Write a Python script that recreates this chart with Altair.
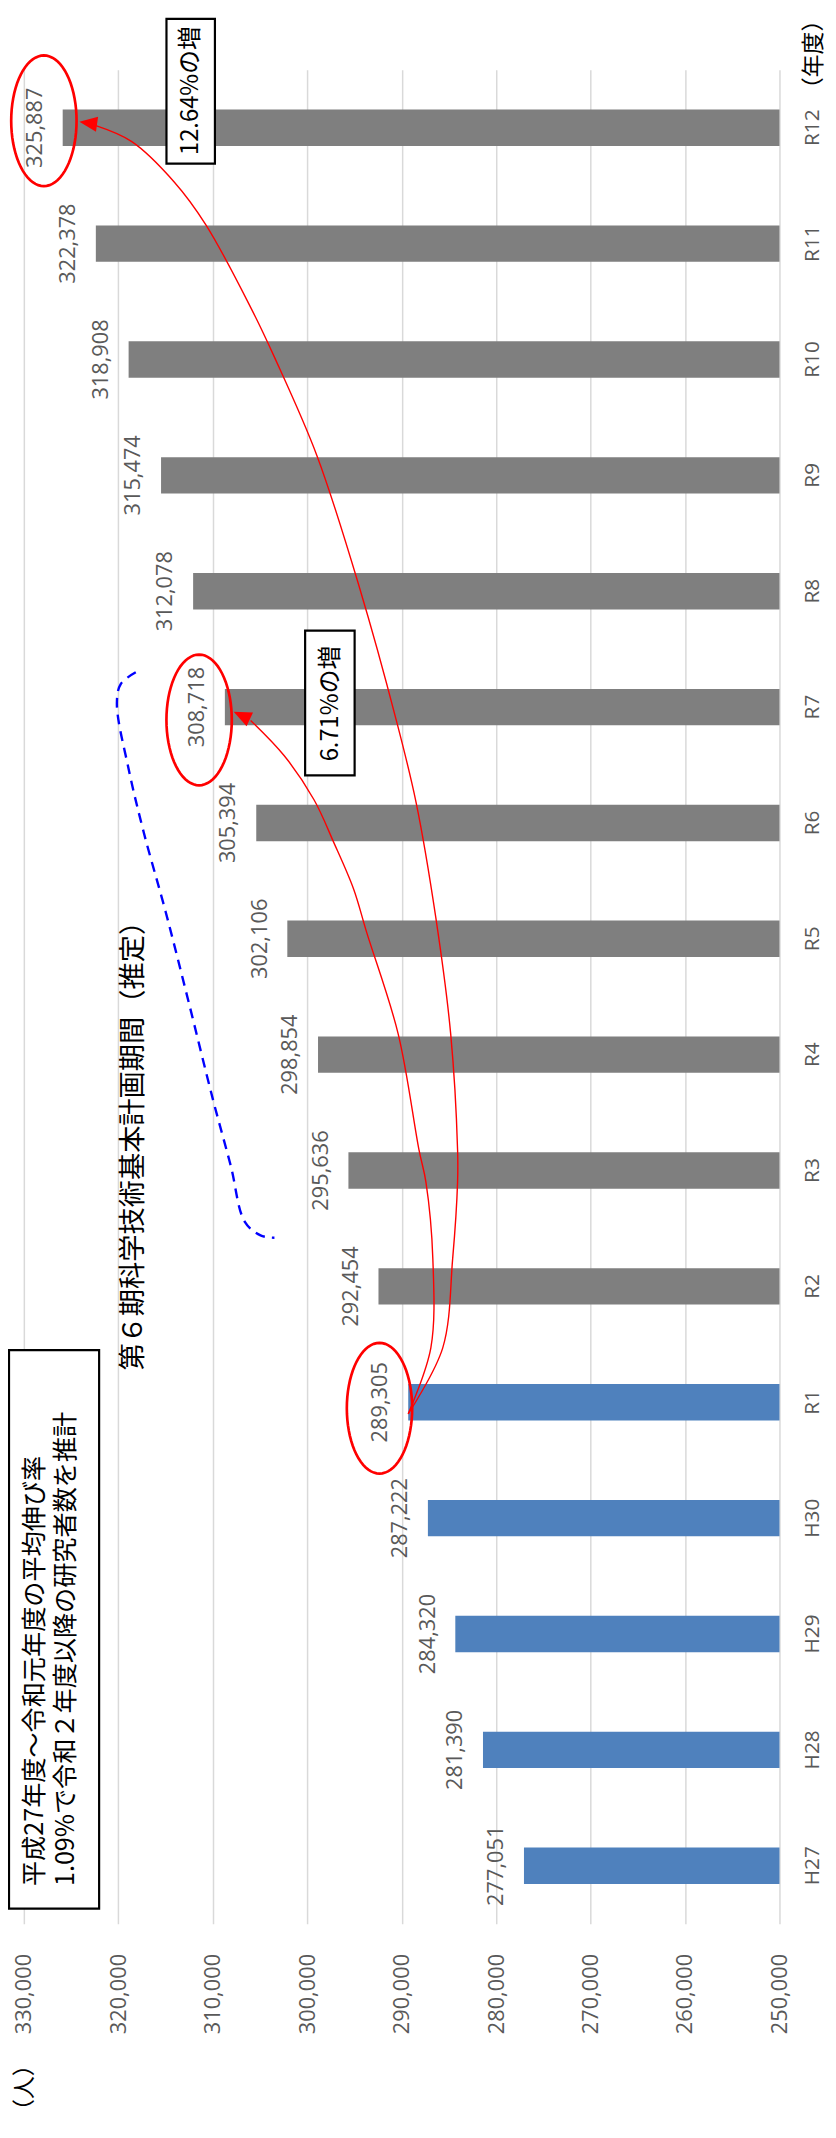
import altair as alt
import numpy as np
import pandas as pd

# ---------------- data ----------------
categories = ["H27", "H28", "H29", "H30", "R1", "R2", "R3", "R4", "R5", "R6",
              "R7", "R8", "R9", "R10", "R11", "R12"]
researchers = [277051, 281390, 284320, 287222, 289305, 292454, 295636, 298854,
               302106, 305394, 308718, 312078, 315474, 318908, 322378, 325887]
kinds = ["実績"] * 5 + ["推計"] * 11
tick_values = [250000, 260000, 270000, 280000, 290000, 300000, 310000, 320000, 330000]

# annotation paths in data units (value, category index: H27=0 ... R12=15)
arrow12_v = [289305, 285650, 284600, 284080, 284080, 284810, 286380, 288480, 290580,
             294460, 298970, 303470, 305990, 310710, 314060, 318570, 322450]
arrow12_i = [3.90, 4.47, 5.24, 5.90, 6.18, 7.18, 8.18, 9.18, 9.89,
             11.03, 12.17, 13.02, 13.45, 14.16, 14.53, 14.88, 15.02]
arrow7_v = [289305, 286910, 286700, 287430, 288170, 290370, 293720, 295090, 297180,
            299280, 302430, 305990]
arrow7_i = [3.90, 4.47, 5.24, 5.90, 6.18, 7.18, 8.06, 8.43, 8.83, 9.20, 9.58, 9.885]
bracket_v = [318150, 319730, 320150, 318890, 317310, 315010, 312600, 309970, 308090,
             306620, 304940, 303470]
bracket_i = [10.30, 10.20, 10.03, 9.46, 8.92, 8.24, 7.47, 6.61, 6.04, 5.56, 5.44, 5.42]
head_v = [306934, 323185]
head_i = [9.927, 15.04]
head_angle = [25, 8]

note_left = ["平成27年度～令和元年度の平均伸び率", "1.09%で令和２年度以降の研究者数を推計"]
note_period = "第６期科学技術基本計画期間（推定）"
note_671 = "6.71%の増"
note_1264 = "12.64%の増"

df = pd.DataFrame({"cat": categories, "value": researchers, "kind": kinds,
                   "base": [250000] * len(categories)})

JP = "Noto Sans CJK JP"
NUM = "Open Sans"
GRAY = "#595959"

XS = alt.Scale(domain=[250000, 330000], reverse=True, nice=False, zero=False)
YB = alt.Scale(domain=categories[::-1], paddingInner=0.686, paddingOuter=0.343)
YQ = alt.Scale(domain=[-0.5, 15.5], nice=False, zero=False)


def xq(field):
    return alt.X(field, type="quantitative", scale=XS, axis=None)


def yq(field):
    return alt.Y(field, type="quantitative", scale=YQ, axis=None)


# ---------------- bars ----------------
bars = alt.Chart(df).mark_bar().encode(
    x=alt.X("value:Q", scale=XS, title=None,
            axis=alt.Axis(values=tick_values, labelExpr="format(datum.value, ',')",
                          labelAngle=270,
                          labelAlign="right", labelBaseline="middle", labelPadding=30,
                          labelFont=NUM, labelFontSize=22, labelColor=GRAY,
                          labelFlush=False, labelOverlap=False,
                          grid=True, gridColor="#D9D9D9", gridWidth=1.5,
                          ticks=False, tickSize=0, domain=False, orient="bottom")),
    x2="base:Q",
    y=alt.Y("cat:N", scale=YB, title=None,
            axis=alt.Axis(orient="right", labelAngle=270, labelAlign="center",
                          labelBaseline="top", labelPadding=22, labelFont=NUM,
                          labelFontSize=21, labelColor=GRAY, ticks=False, tickSize=0,
                          domain=False, grid=False)),
    color=alt.Color("kind:N", scale=alt.Scale(domain=["実績", "推計"],
                                              range=["#4F81BD", "#7F7F7F"]), legend=None),
)

labels = alt.Chart(df).mark_text(angle=270, align="center", baseline="alphabetic", dy=-21,
                                 font=NUM, fontSize=22, color=GRAY).encode(
    x=alt.X("value:Q", scale=XS, axis=None),
    y=alt.Y("cat:N", scale=YB, axis=None),
    text=alt.Text("value:Q", format=","),
)

# ---------------- red ellipses ----------------
t = np.linspace(0, 2 * np.pi, 73)[:-1]
ELLIPSE = "M" + " L".join(f"{0.5 * np.cos(a):.4f},{np.sin(a):.4f}" for a in t) + " Z"


def ellipse(cat, xo, yo):
    return alt.Chart(df).transform_filter(alt.datum.cat == cat).mark_point(
        shape=ELLIPSE, size=17424, filled=False, color="#FF0000", strokeWidth=2.7,
        opacity=1, xOffset=xo, yOffset=yo).encode(
        x=alt.X("value:Q", scale=XS, axis=None),
        y=alt.Y("cat:N", scale=YB, axis=None))


ell1 = ellipse("R1", -29, 6)
ell7 = ellipse("R7", -26, 13)
ell12 = ellipse("R12", -19, -7)

# ---------------- curves ----------------
a12 = pd.DataFrame({"v": arrow12_v, "i": arrow12_i, "o": range(len(arrow12_v))})
a7 = pd.DataFrame({"v": arrow7_v, "i": arrow7_i, "o": range(len(arrow7_v))})
br = pd.DataFrame({"v": bracket_v, "i": bracket_i, "o": range(len(bracket_v))})
heads = pd.DataFrame({"v": head_v, "i": head_i, "a": head_angle})


def curve(d, **kw):
    return alt.Chart(d).mark_line(interpolate="catmull-rom", **kw).encode(
        x=xq("v"), y=yq("i"), order="o:Q")


line12 = curve(a12, color="#FF0000", strokeWidth=1.4)
line7 = curve(a7, color="#FF0000", strokeWidth=1.4)
bracket = curve(br, color="#0000FF", strokeWidth=2.4, strokeDash=[10, 7])

ARROW = "M -1 0 L 1 -0.85 L 1 0.85 Z"
arrowheads = alt.Chart(heads).mark_point(shape=ARROW, size=324, filled=True,
                                         color="#FF0000", opacity=1).encode(
    x=xq("v"), y=yq("i"), angle=alt.Angle("a:Q", scale=None))

# ---------------- boxes & texts ----------------
boxes = pd.DataFrame({
    "x1": [300220, 314900, 331570],
    "x2": [294980, 309770, 322030],
    "y1": [10.66, 15.94, 4.45],
    "y2": [9.41, 14.69, -0.37],
})
box_layer = alt.Chart(boxes).mark_rect(fill="white", stroke="black", strokeWidth=2.2).encode(
    x=xq("x1"), x2="x2:Q", y=yq("y1"), y2="y2:Q")


def text(label, v, i, size, align="center", color="black", font=JP):
    d = pd.DataFrame({"v": [v], "i": [i], "t": [label]})
    return alt.Chart(d).mark_text(angle=270, align=align, baseline="middle", font=font,
                                  fontSize=size, color=color).encode(
        x=xq("v"), y=yq("i"), text="t:N")


txt_671 = text(note_671, 297500, 10.03, 24)
txt_1264 = text(note_1264, 312330, 15.32, 24)
txt_left1 = text(note_left[0], 328850, -0.175, 25.4, align="left")
txt_left2 = text(note_left[1], 325550, -0.175, 25.4, align="left")
txt_period = text(note_period, 318360, 6.27, 27.5)
txt_year = text("（年度）", 246330, 15.24, 23, align="left")
txt_person = text("（人）", 329900, -2.21, 23, align="left")

chart = alt.layer(
    bars, line12, line7, bracket, arrowheads, box_layer, labels,
    ell1, ell7, ell12,
    txt_671, txt_1264, txt_left1, txt_left2, txt_period, txt_year, txt_person,
).resolve_scale(y="independent").resolve_axis(x="independent", y="independent").properties(
    width=763, height=1872,
    padding={"left": 16, "top": 52, "right": 49, "bottom": 206},
    autosize=alt.AutoSizeParams(type="none"),
    background="white",
).configure_view(stroke=None)

chart.save("out.html", embed_options={"renderer": "svg", "actions": False})
